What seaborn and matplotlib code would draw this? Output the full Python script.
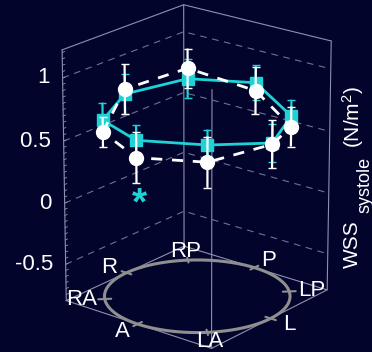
import numpy as np
import matplotlib
matplotlib.use('Agg')
import matplotlib.pyplot as plt
from matplotlib.transforms import offset_copy
import seaborn as sns

# ---------------- data ----------------
sites = ['RA', 'R', 'RP', 'P', 'LP', 'L', 'LA', 'A']
site_angle_deg = [135, 90, 45, 0, -45, -90, -135, 180]
wss_cyan = [0.655, 0.68, 0.715, 0.735, 0.635, 0.61, 0.69, 0.67]
err_cyan = [0.14, 0.16, 0.16, 0.14, 0.13, 0.15, 0.12, 0.12]
wss_white = [0.56, 0.72, 0.80, 0.67, 0.55, 0.60, 0.556, 0.534]
err_white = [0.12, 0.20, 0.16, 0.19, 0.16, 0.19, 0.20, 0.20]
z_ticks = [-0.5, 0, 0.5, 1]
z_tick_labels = ['-0.5', '0', '0.5', '1']
sig_site = 'A'
sig_z = 0.165

# ---------------- style ----------------
BG = '#03042c'
CYAN = '#1fd2d6'
WHITE = '#ffffff'
BOX = '#8d90b0'
GRID = '#6e7194'
RING = '#8f8f8f'

sns.set_theme(style='dark', rc={'figure.facecolor': BG, 'axes.facecolor': BG})
plt.rcParams['font.family'] = ['Liberation Sans', 'DejaVu Sans']
plt.rcParams['mathtext.fontset'] = 'custom'
plt.rcParams['mathtext.rm'] = 'Liberation Sans'
plt.rcParams['mathtext.it'] = 'Liberation Sans:italic'

W, H = 372, 352
fig = plt.figure(figsize=(W / 100, H / 100), dpi=100, facecolor=BG)
ax = fig.add_axes([6.5 / W, -1 / H, 1.0, 1.0], projection='3d', facecolor=BG)
ax.set_proj_type('persp', focal_length=1.6)
ax.view_init(elev=20.7, azim=-141)
ax.set_box_aspect((0.519, 0.519, 0.7356), zoom=1.0402)
ax.set_axis_off()
ax.computed_zorder = False

ZMIN, ZMAX = -0.8, 1.22
XL, YL = (-1.0, 1.0), (-1.0, 1.0)
for setter, lim in ((ax.set_xlim, XL), (ax.set_ylim, YL), (ax.set_zlim, (ZMIN, ZMAX))):
    try:
        setter(*lim, view_margin=0)
    except TypeError:
        setter(*lim)

x0, x1 = XL
y0, y1 = YL
# corners: RA=(x0,y1), RP=(x1,y1), LP=(x1,y0), LA=(x0,y0)
bkw = dict(color=BOX, lw=0.8, zorder=1)
sq = [(x0, y1), (x1, y1), (x1, y0), (x0, y0), (x0, y1)]
ax.plot([p[0] for p in sq], [p[1] for p in sq], [ZMIN] * 5, **bkw)
for cx, cy in [(x0, y1), (x1, y1), (x1, y0), (x0, y0)]:
    ax.plot([cx, cx], [cy, cy], [ZMIN, ZMAX], **bkw)
ax.plot([x0, x1, x1], [y1, y1, y0], [ZMAX] * 3, **bkw)

# dashed gridlines on back walls
for zt in z_ticks:
    ax.plot([x0, x1, x1], [y1, y1, y0], [zt] * 3, color=GRID, lw=0.8,
            ls=(0, (6, 5)), zorder=1)
# tick labels and minor ticks on front-left edge (RA corner)
for zt, lab in zip(z_ticks, z_tick_labels):
    ax.text(x0, y1, zt, lab + '  ', ha='right', va='center', color=WHITE,
            fontsize=16, zorder=2)
for zt in np.arange(-0.8, 1.2001, 0.05):
    ax.plot([x0, x0 + 0.04], [y1, y1], [zt, zt], color=BOX, lw=0.6, zorder=1)

# ring at the floor
t = np.linspace(0, 2 * np.pi, 200)
ax.plot(np.cos(t), np.sin(t), np.full_like(t, ZMIN), color=RING, lw=2.2, zorder=2)
ang = np.deg2rad(site_angle_deg)
for a in ang:
    ax.plot([0.93 * np.cos(a), 1.07 * np.cos(a)], [0.93 * np.sin(a), 1.07 * np.sin(a)],
            [ZMIN, ZMIN], color=RING, lw=1.5, zorder=2)
for a, s in zip(ang, sites):
    ax.text(1.25 * np.cos(a), 1.25 * np.sin(a), ZMIN, s, ha='center', va='center',
            color=WHITE, fontsize=16, zorder=3)

xs = np.cos(ang)
ys = np.sin(ang)
loop = list(range(len(sites))) + [0]

# cyan series
ax.plot(xs[loop], ys[loop], np.array(wss_cyan)[loop], color=CYAN, lw=2.0, zorder=5)
ax.errorbar(xs, ys, wss_cyan, zerr=err_cyan, fmt='none', ecolor=CYAN,
            elinewidth=1.6, capsize=3, zorder=5)
ax.plot(xs, ys, wss_cyan, ls='none', marker='s', ms=8.5, mfc=CYAN, mec=CYAN, zorder=6)

# white series
ax.plot(xs[loop], ys[loop], np.array(wss_white)[loop], color=WHITE, lw=2.0,
        dashes=(4, 3.5), zorder=7)
ax.errorbar(xs, ys, wss_white, zerr=err_white, fmt='none', ecolor=WHITE,
            elinewidth=1.6, capsize=3, zorder=7)
ax.plot(xs, ys, wss_white, ls='none', marker='o', ms=10, mfc=WHITE, mec=WHITE, zorder=8)

# significance mark
k = sites.index(sig_site)
ax.text(xs[k], ys[k], sig_z, '*', ha='center', va='center', color=CYAN,
        fontsize=28, fontweight='bold', zorder=9,
        transform=offset_copy(ax.transData, fig=fig, x=3, y=0, units='dots'))

# z label (rotated)
fig.text(358 / W, 1 - 268 / H, 'WSS', rotation=90, rotation_mode='anchor',
         ha='left', va='baseline', color=WHITE, fontsize=15)
fig.text(369 / W, 1 - 213 / H, 'systole', rotation=90, rotation_mode='anchor',
         ha='left', va='baseline', color=WHITE, fontsize=13)
fig.text(360 / W, 1 - 148 / H, '(N/m$^2$)', rotation=90, rotation_mode='anchor',
         ha='left', va='baseline', color=WHITE, fontsize=15)
# clipped panel title
fig.text(332 / W, 1 - 4 / H, 'LA', ha='center', va='bottom', color=WHITE, fontsize=16)

fig.savefig('out.png', dpi=100, facecolor=BG)
